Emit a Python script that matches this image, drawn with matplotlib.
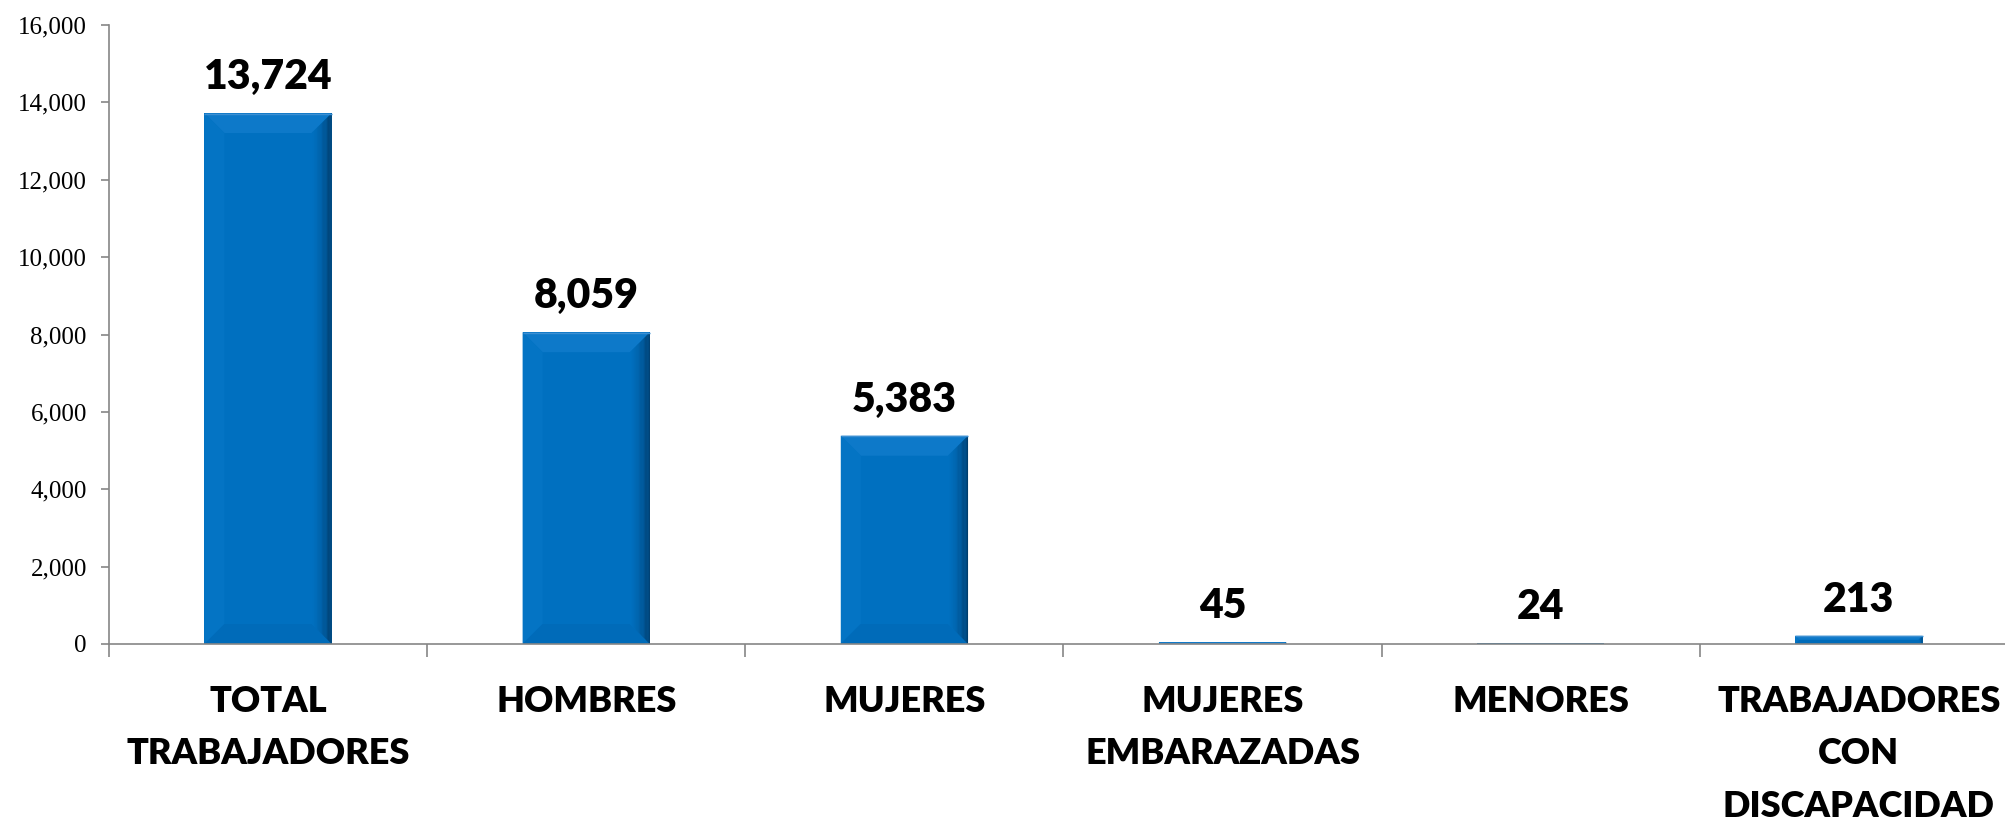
import matplotlib
matplotlib.use('Agg')
import matplotlib.pyplot as plt
import numpy as np
from matplotlib.patches import Polygon
from matplotlib.colors import to_rgb
from matplotlib.ticker import FuncFormatter

categories = ["TOTAL\nTRABAJADORES", "HOMBRES", "MUJERES", "MUJERES\nEMBARAZADAS",
              "MENORES", "TRABAJADORES\nCON\nDISCAPACIDAD"]
values = [13724, 8059, 5383, 45, 24, 213]
value_labels = ["13,724", "8,059", "5,383", "45", "24", "213"]
yticks = [0, 2000, 4000, 6000, 8000, 10000, 12000, 14000, 16000]

W, H = 2005, 818
fig = plt.figure(figsize=(W / 100, H / 100), dpi=100)
ax = fig.add_axes([109 / W, 174 / H, 1909 / W, 619 / H])

x = np.arange(len(categories))
main = '#0070C0'
bars = ax.bar(x, values, width=0.40, color=main, edgecolor='none', zorder=2)
ax.set_xlim(-0.5, len(categories) - 0.5)
ax.set_ylim(0, 16000)

# bevel effect computed from bar geometry in pixels
inv = ax.transData.inverted()
def to_data(pts):
    return inv.transform(np.array(pts))

def add_poly(pts, color, z=3):
    ax.add_patch(Polygon(to_data(pts), closed=True, facecolor=color, edgecolor='none', zorder=z))

c_main = np.array(to_rgb(main))
c_dark = np.array(to_rgb('#003A68'))
for b in bars:
    (x0, y0), (x1, y1) = ax.transData.transform([(b.get_x(), 0), (b.get_x() + b.get_width(), b.get_height())])
    h = y1 - y0
    w = x1 - x0
    bv = min(20.0, h / 2.0, w / 2.0)
    if h < 1:
        continue
    add_poly([(x0, y1), (x1, y1), (x1 - bv, y1 - bv), (x0 + bv, y1 - bv)], '#0D79C9')
    add_poly([(x0, y0), (x0, y1), (x0 + bv, y1 - bv), (x0 + bv, y0 + bv)], '#0474C4')
    add_poly([(x0, y0), (x1, y0), (x1 - bv, y0 + bv), (x0 + bv, y0 + bv)], '#006BB9')
    n = 16
    for k in range(n):
        da = bv * (1 - k / n)
        db = bv * (1 - (k + 1) / n)
        xa, xb = x1 - da, x1 - db
        t = (k + 0.5) / n
        f = t ** 1.6
        col = c_main * (1 - f) + c_dark * f
        add_poly([(xa, y0 + da), (xb, y0 + db), (xb, y1 - db), (xa, y1 - da)], col, z=3)
    p = to_data([(x0, y1 - 0.5), (x1, y1 - 0.5)])
    ax.plot(p[:, 0], p[:, 1], color='#3C8FD2', lw=1.0, zorder=4, solid_capstyle='butt')

ax.set_xlim(-0.5, len(categories) - 0.5)
ax.set_ylim(0, 16000)

for s in ['top', 'right']:
    ax.spines[s].set_visible(False)
for s in ['left', 'bottom']:
    ax.spines[s].set_color('#868686')
    ax.spines[s].set_linewidth(1.2)
    ax.spines[s].set_zorder(5)

ax.set_yticks(yticks)
ax.yaxis.set_major_formatter(FuncFormatter(lambda v, p: f"{int(v):,}"))
ax.tick_params(axis='y', length=6, width=1.2, color='#868686', pad=10,
               labelsize=18, labelcolor='black')
for lab in ax.get_yticklabels():
    lab.set_fontfamily('Liberation Serif')

ax.set_xticks(np.arange(-0.5, len(categories), 1.0))
ax.set_xticklabels([])
ax.tick_params(axis='x', length=9.5, width=1.2, color='#868686')

for i, cat in enumerate(categories):
    ax.annotate(cat, xy=(i, 0), xycoords=('data', 'axes fraction'), xytext=(0, -41),
                textcoords='offset pixels', ha='center', va='top', fontsize=26,
                fontweight='heavy', family=['Lato', 'DejaVu Sans'], linespacing=1.72,
                annotation_clip=False)

for i, (v, lab) in enumerate(zip(values, value_labels)):
    ax.annotate(lab, xy=(i, v), xycoords='data', xytext=(0, 24), textcoords='offset pixels',
                ha='center', va='baseline', fontsize=29.5, fontweight='heavy',
                family=['Lato', 'DejaVu Sans'], annotation_clip=False)

fig.savefig('out.png', dpi=100)
